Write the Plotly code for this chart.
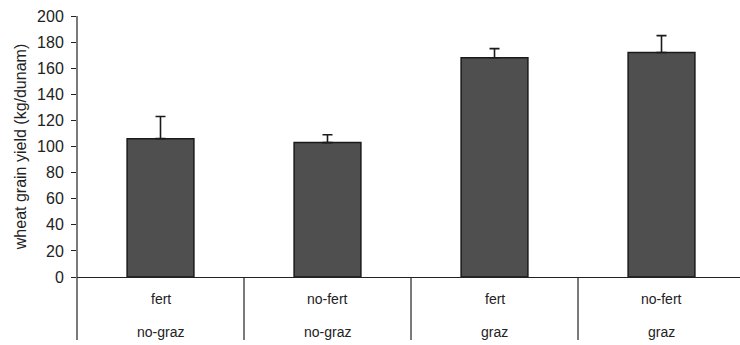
import plotly.graph_objects as go

# Wheat grain yield by treatment
fert_labels = ["fert", "no-fert", "fert", "no-fert"]
graz_labels = ["no-graz", "no-graz", "graz", "graz"]
yield_mean = [106, 103, 168, 172]
yield_err = [17, 6, 7, 13]
y_ticks = [0, 20, 40, 60, 80, 100, 120, 140, 160, 180, 200]

positions = list(range(len(yield_mean)))

fig = go.Figure()
fig.add_trace(go.Bar(
    x=positions,
    y=yield_mean,
    width=0.4,
    marker=dict(color="#4f4f4f", line=dict(color="#1a1a1a", width=1.5)),
    error_y=dict(type="data", array=yield_err, arrayminus=[0] * len(yield_err),
                 symmetric=False, color="#1a1a1a", thickness=1.6, width=5),
    showlegend=False,
))

PLOT_TOP, PLOT_BOTTOM = 16, 277
plot_h = PLOT_BOTTOM - PLOT_TOP


def paper_y(px):
    return (PLOT_BOTTOM - px) / plot_h


table_bottom = paper_y(340)

shapes = [
    # y axis line running down through the category table
    dict(type="line", xref="paper", yref="paper", x0=0, x1=0,
         y0=1, y1=table_bottom, line=dict(color="#222", width=1.2)),
]
for i in range(len(positions) - 1):
    shapes.append(dict(type="line", xref="x", yref="paper", x0=i + 0.5, x1=i + 0.5,
                       y0=0, y1=table_bottom, line=dict(color="#222", width=1.2)))

annotations = []
for i, (f, g) in enumerate(zip(fert_labels, graz_labels)):
    annotations.append(dict(x=i, y=paper_y(299), xref="x", yref="paper", text=f,
                            showarrow=False, yanchor="middle",
                            font=dict(size=14, color="#222")))
    annotations.append(dict(x=i, y=paper_y(332), xref="x", yref="paper", text=g,
                            showarrow=False, yanchor="middle",
                            font=dict(size=14, color="#222")))

fig.update_layout(
    width=740, height=345,
    margin=dict(l=77, r=0, t=PLOT_TOP, b=345 - PLOT_BOTTOM),
    paper_bgcolor="white", plot_bgcolor="white",
    font=dict(family="Liberation Sans, Arial, sans-serif", color="#222"),
    xaxis=dict(range=[-0.5, 3.47], showticklabels=False, ticks="", showgrid=False,
               zeroline=False, showline=True, linecolor="#222", linewidth=1.2),
    yaxis=dict(range=[0, 200], tickvals=y_ticks, ticks="outside", ticklen=5,
               tickcolor="#222", tickfont=dict(size=16, color="#222"),
               ticklabelstandoff=4,
               showgrid=False, zeroline=False, showline=False,
               title=dict(text="wheat grain yield (kg/dunam)",
                          font=dict(size=16, color="#222"), standoff=6)),
    shapes=shapes,
    annotations=annotations,
    bargap=0.6,
)

fig.write_html("out.html")
